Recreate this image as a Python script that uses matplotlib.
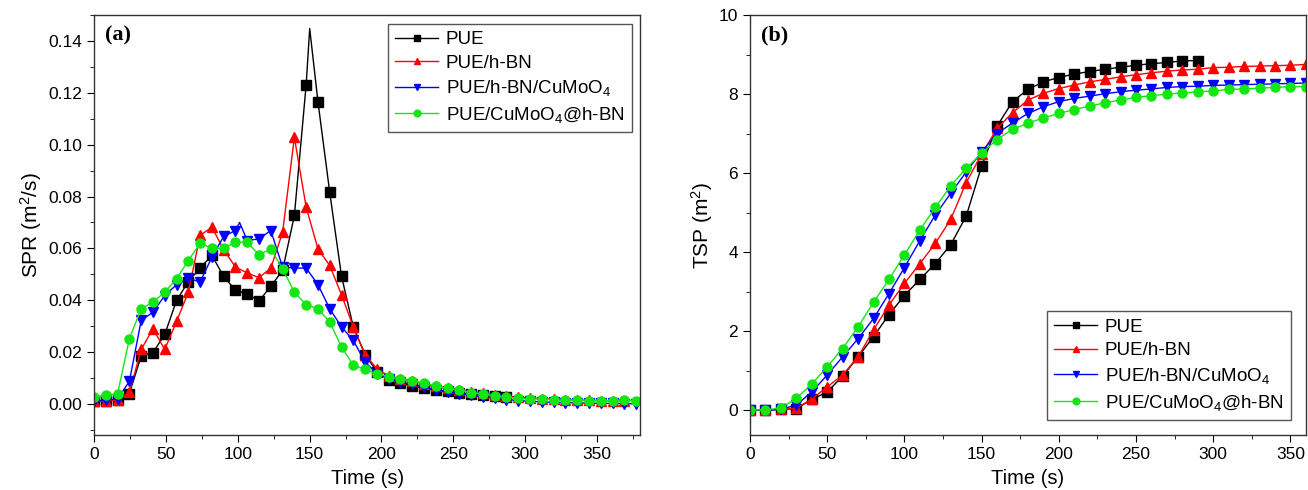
import matplotlib
matplotlib.use('Agg')
import matplotlib.pyplot as plt
from matplotlib.ticker import MultipleLocator

plt.rcParams['font.family'] = ['Liberation Sans', 'DejaVu Sans']
plt.rcParams['mathtext.fontset'] = 'custom'
plt.rcParams['mathtext.rm'] = 'Liberation Sans'
plt.rcParams['mathtext.default'] = 'regular'

labels = ['PUE', 'PUE/h-BN', 'PUE/h-BN/CuMoO$_4$', 'PUE/CuMoO$_4$@h-BN']
colors = ['black', 'red', 'blue', '#14e614']
markers = ['s', '^', 'v', 'o']

# ---- (a) SPR, one marker every ~8.2 s
spr_step = 8.2
spr_pue = [0.001, 0.0012, 0.0015, 0.004, 0.0185, 0.0198, 0.0268, 0.0399, 0.0472, 0.0524,
           0.0573, 0.0492, 0.0438, 0.0425, 0.0397, 0.0454, 0.0515, 0.0727, 0.1231, 0.1166,
           0.0816, 0.0493, 0.0297, 0.019, 0.0125, 0.0093, 0.0082, 0.0068, 0.0060, 0.0052,
           0.0048, 0.0042, 0.0038, 0.0033, 0.0030, 0.0028]
spr_hbn = [0.001, 0.001, 0.0015, 0.0045, 0.021, 0.029, 0.021, 0.0318, 0.0431, 0.065,
           0.0682, 0.0595, 0.0528, 0.0505, 0.0487, 0.0524, 0.0662, 0.1028, 0.0759, 0.0598,
           0.0534, 0.0421, 0.0297, 0.019, 0.0136, 0.0108, 0.0095, 0.0088, 0.0078, 0.0068,
           0.0060, 0.0055, 0.0047, 0.0042, 0.0035, 0.0030, 0.0026, 0.0022, 0.0020, 0.0018,
           0.0016, 0.0015, 0.0014, 0.0013, 0.0012, 0.0012]
spr_hbn_cu = [0.001, 0.0015, 0.002, 0.0087, 0.0322, 0.0354, 0.0418, 0.046, 0.0485, 0.047,
              0.0566, 0.0646, 0.0669, 0.063, 0.0637, 0.0669, 0.0528, 0.0524, 0.0524, 0.046,
              0.0367, 0.0297, 0.0245, 0.0162, 0.0117, 0.0098, 0.0085, 0.0075, 0.0065, 0.0055,
              0.0047, 0.0040, 0.0033, 0.0028, 0.0022, 0.0017, 0.0013, 0.0010, 0.0008, 0.0006,
              0.0005, 0.0004, 0.0003, 0.0002, 0.0002, 0.0001, 0.0000]
spr_cu_hbn = [0.0027, 0.0033, 0.004, 0.0252, 0.0367, 0.0393, 0.0431, 0.0483, 0.0553, 0.062,
              0.060, 0.060, 0.0624, 0.0624, 0.0575, 0.0598, 0.0521, 0.0431, 0.0383, 0.0367,
              0.0316, 0.022, 0.0149, 0.0134, 0.0116, 0.0105, 0.0096, 0.0089, 0.0080, 0.0069,
              0.0060, 0.0054, 0.0044, 0.0039, 0.0031, 0.0026, 0.0022, 0.0019, 0.0018, 0.0016,
              0.0014, 0.0014, 0.0013, 0.0012, 0.0013, 0.0014, 0.0012]
# unmarked points between markers (peak tops): (marker index position, value)
spr_extra = {0: [(18.3, 0.1448)], 2: [(12.35, 0.0700)]}

# ---- (b) TSP, one marker every 10 s
tsp_step = 10
tsp_pue = [0, 0, 0.02, 0.04, 0.27, 0.46, 0.86, 1.35, 1.86, 2.42, 2.90, 3.31, 3.71, 4.19,
           4.91, 6.18, 7.19, 7.81, 8.12, 8.31, 8.42, 8.51, 8.57, 8.63, 8.68, 8.73, 8.77,
           8.80, 8.84, 8.85]
tsp_hbn = [0, 0, 0.02, 0.05, 0.28, 0.59, 0.89, 1.35, 2.03, 2.66, 3.21, 3.71, 4.22, 4.83,
           5.76, 6.48, 7.13, 7.53, 7.85, 8.02, 8.14, 8.23, 8.31, 8.37, 8.44, 8.49, 8.54,
           8.58, 8.61, 8.63, 8.67, 8.68, 8.70, 8.71, 8.72, 8.73, 8.75]
tsp_hbn_cu = [0, 0, 0.02, 0.13, 0.46, 0.89, 1.35, 1.81, 2.32, 2.95, 3.61, 4.29, 4.94, 5.49,
              6.03, 6.54, 7.00, 7.27, 7.51, 7.68, 7.81, 7.89, 7.95, 8.01, 8.06, 8.10, 8.13,
              8.17, 8.19, 8.20, 8.22, 8.23, 8.24, 8.25, 8.26, 8.27, 8.28]
tsp_cu_hbn = [0, 0.01, 0.05, 0.30, 0.66, 1.10, 1.56, 2.11, 2.73, 3.31, 3.93, 4.56, 5.13,
              5.68, 6.12, 6.50, 6.85, 7.11, 7.26, 7.40, 7.51, 7.61, 7.70, 7.78, 7.85, 7.92,
              7.96, 8.00, 8.03, 8.06, 8.08, 8.12, 8.13, 8.15, 8.17, 8.19, 8.19]

fig = plt.figure(figsize=(13.08, 4.9), dpi=100)
ax1 = fig.add_axes([0.0719, 0.1122, 0.4175, 0.857])
ax2 = fig.add_axes([0.5734, 0.1122, 0.4250, 0.857])

for k, vals in enumerate([spr_pue, spr_hbn, spr_hbn_cu, spr_cu_hbn]):
    pts = [(i, v) for i, v in enumerate(vals)] + spr_extra.get(k, [])
    pts.sort()
    xs = [p[0] * spr_step for p in pts]
    ys = [p[1] for p in pts]
    mk = [j for j, p in enumerate(pts) if float(p[0]).is_integer()]
    ax1.plot(xs, ys, color=colors[k], marker=markers[k], ms=6.5, lw=1.0,
             markevery=mk, label=labels[k])

for k, vals in enumerate([tsp_pue, tsp_hbn, tsp_hbn_cu, tsp_cu_hbn]):
    xs = [i * tsp_step for i in range(len(vals))]
    ax2.plot(xs, vals, color=colors[k], marker=markers[k], ms=6.5, lw=1.0, label=labels[k])

ax1.set_xlim(0, 380)
ax1.set_ylim(-0.012, 0.150)
ax1.xaxis.set_major_locator(MultipleLocator(50))
ax1.xaxis.set_minor_locator(MultipleLocator(25))
ax1.yaxis.set_major_locator(MultipleLocator(0.02))
ax1.yaxis.set_minor_locator(MultipleLocator(0.01))
ax1.yaxis.set_major_formatter(plt.FormatStrFormatter('%.2f'))
ax1.set_ylabel('SPR (m$^2$/s)', fontsize=15, labelpad=3)

ax2.set_xlim(0, 360)
ax2.set_ylim(-0.63, 10)
ax2.xaxis.set_major_locator(MultipleLocator(50))
ax2.xaxis.set_minor_locator(MultipleLocator(25))
ax2.yaxis.set_major_locator(MultipleLocator(2))
ax2.yaxis.set_minor_locator(MultipleLocator(1))
ax2.set_ylabel('TSP (m$^2$)', fontsize=15, labelpad=3)

for ax in (ax1, ax2):
    ax.set_xlabel('Time (s)', fontsize=14.5, labelpad=5)
    ax.tick_params(which='both', direction='out', top=False, right=False, labelsize=12.5)
    ax.tick_params(which='major', length=5)
    ax.tick_params(which='minor', length=3)
    for s in ax.spines.values():
        s.set_linewidth(1.0)
        s.set_color('#333333')

leg_kw = dict(fontsize=13.5, frameon=True, fancybox=False, edgecolor='#555555',
              handlelength=2.3, handletextpad=0.4, borderpad=0.4, labelspacing=0.35,
              markerscale=0.75, framealpha=1)
ax1.legend(loc='upper right', borderaxespad=0.45, **leg_kw)
ax2.legend(loc='lower right', borderaxespad=0.8, **leg_kw)

ax1.text(0.02, 0.975, '(a)', transform=ax1.transAxes, ha='left', va='top',
         fontsize=16, fontweight='bold', family='Liberation Serif')
ax2.text(0.02, 0.975, '(b)', transform=ax2.transAxes, ha='left', va='top',
         fontsize=16, fontweight='bold', family='Liberation Serif')

fig.savefig('out.png', dpi=100)
